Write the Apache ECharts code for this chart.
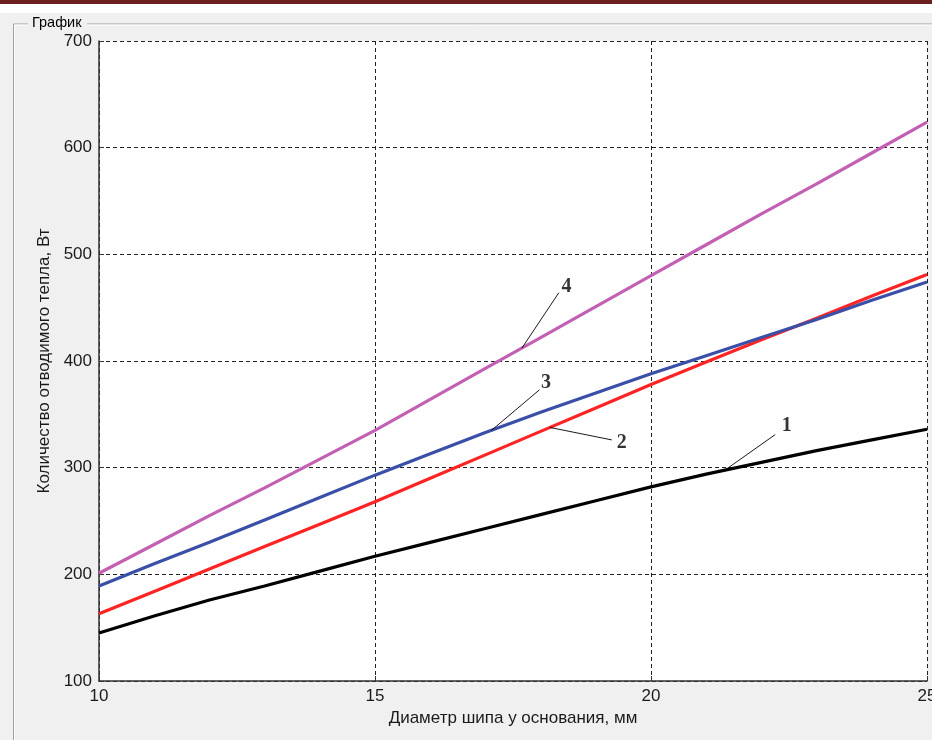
<!DOCTYPE html>
<html>
<head>
<meta charset="utf-8">
<script src="https://cdn.jsdelivr.net/npm/echarts@6/dist/echarts.min.js"></script>
<style>
  html, body { margin: 0; padding: 0; background: #f0f0f0; }
  #chart { width: 932px; height: 740px; }
</style>
</head>
<body>
<div id="chart"></div>
<script>
// Diameter of the pin at its base, mm
const diameters = [10, 11, 12, 13, 14, 15, 16, 17, 18, 19, 20, 21, 22, 23, 24, 25];

// Heat removed, W — one array per curve
const curve1 = [145, 161, 176, 189, 203, 217, 230, 243, 256, 269, 282, 294, 305, 316, 326, 336];
const curve2 = [163, 184, 205, 226, 247, 268, 290, 312, 334, 356, 378, 399, 420, 440, 461, 481];
const curve3 = [189, 210, 230, 251, 272, 293, 313, 333, 352, 370, 388, 405, 422, 439, 457, 474];
const curve4 = [201, 228, 255, 281, 308, 335, 364, 393, 422, 451, 480, 509, 538, 566, 595, 624];

// Curve numbers with their leader lines: label point, leader start, leader end (data coords)
const curveLabels = ['1', '2', '3', '4'];
const labelPoints = [[22.46, 339], [19.47, 323], [18.10, 380], [18.47, 470]];
const leaderStart = [[22.25, 331], [19.29, 326], [17.98, 373], [18.33, 464]];
const leaderEnd   = [[21.34, 297.7], [18.17, 337.7], [17.11, 335], [17.66, 412]];

const xTicks = { min: 10, max: 25, interval: 5 };
const yTicks = { min: 100, max: 700, interval: 100 };

const colors = ['#000000', '#ff2424', '#3a4fa8', '#c260b4'];
const curves = [curve1, curve2, curve3, curve4];

const chart = echarts.init(document.getElementById('chart'), null, { renderer: 'canvas' });

const curveSeries = curves.map((vals, i) => ({
  type: 'line',
  data: diameters.map((d, k) => [d, vals[k]]),
  showSymbol: false,
  smooth: false,
  lineStyle: { color: colors[i], width: 3.2 },
  silent: true,
  z: 3
}));

const leaderSeries = curveLabels.map((_, i) => ({
  type: 'line',
  data: [leaderStart[i], leaderEnd[i]],
  showSymbol: false,
  lineStyle: { color: '#000', width: 0.9 },
  silent: true,
  z: 4
}));

const labelSeries = {
  type: 'scatter',
  symbolSize: 0,
  data: labelPoints.map((p, i) => ({ value: p, name: curveLabels[i] })),
  label: {
    show: true,
    position: 'inside',
    formatter: '{b}',
    fontFamily: 'Liberation Serif',
    fontWeight: 'bold',
    fontSize: 20,
    color: '#000'
  },
  silent: true,
  z: 5
};

const axisFont = { fontFamily: 'Liberation Sans', fontSize: 17, color: '#1a1a1a' };

chart.setOption({
  backgroundColor: '#f0f0f0',
  animation: false,
  graphic: [
    // window strip
    { type: 'rect', shape: { x: 0, y: 0, width: 932, height: 4 }, style: { fill: '#6b2020' }, silent: true },
    { type: 'rect', shape: { x: 0, y: 4, width: 932, height: 9 }, style: { fill: '#ffffff' }, silent: true },
    // group box frame
    { type: 'line', shape: { x1: 13.5, y1: 24, x2: 932, y2: 24 }, style: { stroke: '#a0a0a0', lineWidth: 1 }, silent: true },
    { type: 'line', shape: { x1: 14.5, y1: 25, x2: 932, y2: 25 }, style: { stroke: '#ffffff', lineWidth: 1 }, silent: true },
    { type: 'line', shape: { x1: 13.5, y1: 24, x2: 13.5, y2: 740 }, style: { stroke: '#a0a0a0', lineWidth: 1 }, silent: true },
    { type: 'line', shape: { x1: 14.5, y1: 25, x2: 14.5, y2: 740 }, style: { stroke: '#ffffff', lineWidth: 1 }, silent: true },
    { type: 'rect', shape: { x: 28, y: 15, width: 59, height: 16 }, style: { fill: '#f0f0f0' }, silent: true },
    { type: 'text', x: 32, y: 23, style: { text: 'График', fontFamily: 'Liberation Sans', fontSize: 14.5, fill: '#000', verticalAlign: 'middle' }, silent: true }
  ],
  grid: {
    left: 99, top: 41, width: 828, height: 640,
    containLabel: false,
    outerBoundsMode: 'none',
    show: true, backgroundColor: '#ffffff', borderWidth: 0
  },
  xAxis: {
    type: 'value',
    min: xTicks.min, max: xTicks.max, interval: xTicks.interval,
    name: 'Диаметр шипа у основания, мм',
    nameLocation: 'middle',
    nameGap: 28,
    nameTextStyle: axisFont,
    axisLine: { show: true, onZero: false, lineStyle: { color: '#333', width: 1.5 } },
    axisTick: { show: true, inside: true, length: 5, lineStyle: { color: '#333' } },
    axisLabel: Object.assign({ margin: 7 }, axisFont),
    splitLine: { show: true, lineStyle: { color: '#222', width: 1, type: [4, 3] } }
  },
  yAxis: {
    type: 'value',
    min: yTicks.min, max: yTicks.max, interval: yTicks.interval,
    name: 'Количество отводимого тепла, Вт',
    nameLocation: 'middle',
    nameGap: 46,
    nameTextStyle: axisFont,
    axisLine: { show: true, onZero: false, lineStyle: { color: '#333', width: 1.5 } },
    axisTick: { show: true, inside: true, length: 5, lineStyle: { color: '#333' } },
    axisLabel: Object.assign({ margin: 7 }, axisFont),
    splitLine: { show: true, lineStyle: { color: '#222', width: 1, type: [4, 3] } }
  },
  series: [...curveSeries, ...leaderSeries, labelSeries]
});
</script>
</body>
</html>
